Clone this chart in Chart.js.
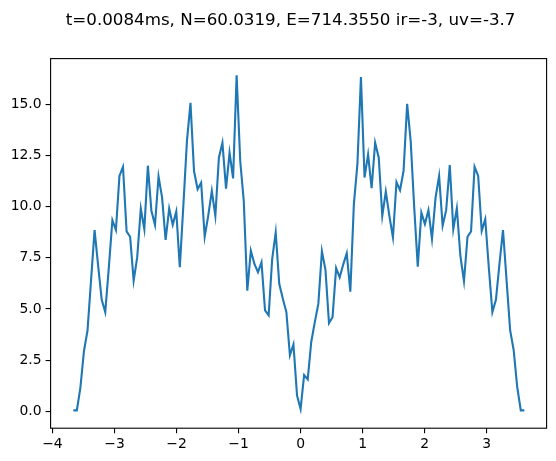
<!DOCTYPE html>
<html>
<head>
<meta charset="utf-8">
<script src="https://cdn.jsdelivr.net/npm/chart.js@4.4.1/dist/chart.umd.min.js"></script>
<style>
  html, body { margin: 0; padding: 0; background: #ffffff; }
  #wrap { width: 556px; height: 461px; position: relative; }
</style>
</head>
<body>
<div id="wrap"><canvas id="c" width="556" height="461"></canvas></div>
<script>
const titleText = "t=0.0084ms, N=60.0319, E=714.3550 ir=-3, uv=-3.7";

const xValues = [
  -3.664, -3.607, -3.550, -3.492, -3.435, -3.378, -3.321, -3.263, -3.206, -3.149,
  -3.092, -3.034, -2.977, -2.920, -2.863, -2.805, -2.748, -2.691, -2.634, -2.576,
  -2.519, -2.462, -2.405, -2.347, -2.290, -2.233, -2.176, -2.118, -2.061, -2.004,
  -1.947, -1.889, -1.832, -1.775, -1.718, -1.660, -1.603, -1.546, -1.489, -1.431,
  -1.374, -1.317, -1.260, -1.202, -1.145, -1.088, -1.031, -0.973, -0.916, -0.859,
  -0.802, -0.744, -0.687, -0.630, -0.573, -0.515, -0.458, -0.401, -0.344, -0.286,
  -0.229, -0.172, -0.115, -0.057, 0.000, 0.057, 0.115, 0.172, 0.229, 0.286,
  0.344, 0.401, 0.458, 0.515, 0.573, 0.630, 0.687, 0.744, 0.802, 0.859,
  0.916, 0.973, 1.031, 1.088, 1.145, 1.202, 1.260, 1.317, 1.374, 1.431,
  1.489, 1.546, 1.603, 1.660, 1.718, 1.775, 1.832, 1.889, 1.947, 2.004,
  2.061, 2.118, 2.176, 2.233, 2.290, 2.347, 2.405, 2.462, 2.519, 2.576,
  2.634, 2.691, 2.748, 2.805, 2.863, 2.920, 2.977, 3.034, 3.092, 3.149,
  3.206, 3.263, 3.321, 3.378, 3.435, 3.492, 3.550, 3.607
];

const yValues = [
  0.05, 0.05, 1.15, 2.95, 3.95, 6.40, 8.85, 7.10, 5.45, 4.85,
  7.00, 9.34, 8.86, 11.50, 11.94, 8.79, 8.53, 6.39, 7.52, 9.90,
  8.90, 12.00, 9.80, 9.11, 11.47, 10.45, 8.38, 9.91, 9.11, 9.76,
  7.04, 10.10, 13.20, 15.07, 11.74, 10.85, 11.17, 8.53, 9.55, 10.77,
  9.55, 12.39, 13.12, 10.88, 12.63, 11.38, 16.41, 12.23, 10.28, 5.90,
  7.85, 7.20, 6.80, 7.28, 4.93, 4.69, 7.44, 8.74, 6.23, 5.50,
  4.85, 2.74, 3.27, 0.77, 0.12, 1.77, 1.56, 3.39, 4.36, 5.25,
  7.82, 6.91, 4.31, 4.60, 7.00, 6.55, 7.17, 7.72, 5.85, 10.12,
  12.07, 16.33, 11.42, 12.55, 10.90, 13.12, 12.39, 9.55, 10.74, 9.55,
  8.50, 11.20, 10.80, 11.74, 15.02, 13.20, 9.96, 7.07, 9.71, 9.15,
  9.83, 8.42, 10.44, 11.50, 9.07, 9.83, 12.03, 8.90, 9.92, 7.60,
  6.36, 8.53, 8.79, 11.94, 11.50, 8.82, 9.39, 7.04, 4.85, 5.45,
  7.20, 8.86, 6.39, 3.97, 3.00, 1.20, 0.05, 0.05
];

const xTicks = [-4, -3, -2, -1, 0, 1, 2, 3];
const yTicks = [0, 2.5, 5, 7.5, 10, 12.5, 15];

const points = xValues.map((x, i) => ({ x: x, y: yValues[i] }));

const FONT = "'DejaVu Sans', sans-serif";
const AX = { left: 50.6, right: 546.6, top: 58.6, bottom: 428.2 };

const framePlugin = {
  id: 'frame',
  afterDraw(chart) {
    const ctx = chart.ctx;
    const a = chart.chartArea;
    ctx.save();
    ctx.strokeStyle = '#000000';
    ctx.lineWidth = 1.1;
    ctx.strokeRect(a.left, a.top, a.right - a.left, a.bottom - a.top);
    ctx.restore();
  },
  afterDatasetsDraw(chart) {}
};

const titlePlugin = {
  id: 'mtitle',
  afterDraw(chart) {
    const ctx = chart.ctx;
    ctx.save();
    ctx.fillStyle = '#000000';
    ctx.font = "16.7px " + FONT;
    ctx.textAlign = 'center';
    ctx.textBaseline = 'middle';
    ctx.fillText(titleText, 290.6, 21);
    ctx.restore();
  }
};

const minus = v => String(v).replace('-', '\u2212');

new Chart(document.getElementById('c'), {
  type: 'line',
  data: {
    datasets: [{
      data: points,
      borderColor: '#1f77b4',
      borderWidth: 2.1,
      pointRadius: 0,
      tension: 0,
      fill: false
    }]
  },
  options: {
    responsive: false,
    animation: false,
    devicePixelRatio: 1,
    layout: { padding: { top: AX.top, left: 0, right: 556 - AX.right, bottom: 0 } },
    plugins: { legend: { display: false }, title: { display: false }, tooltip: { enabled: false } },
    scales: {
      x: {
        type: 'linear',
        min: -4.03,
        max: 3.966,
        afterBuildTicks: s => { s.ticks = xTicks.map(v => ({ value: v })); },
        afterFit: s => { s.height = 461 - AX.bottom; },
        grid: { display: true, drawOnChartArea: false, drawTicks: true, tickLength: 5, color: '#000000', lineWidth: 1.1 },
        border: { display: false },
        ticks: {
          color: '#000000',
          font: { family: FONT, size: 13.9 },
          padding: 3,
          maxRotation: 0,
          callback: v => minus(v)
        }
      },
      y: {
        type: 'linear',
        min: -0.82,
        max: 17.23,
        afterBuildTicks: s => { s.ticks = yTicks.map(v => ({ value: v })); },
        afterFit: s => { s.width = AX.left; },
        grid: { display: true, drawOnChartArea: false, drawTicks: true, tickLength: 5, color: '#000000', lineWidth: 1.1 },
        border: { display: false },
        ticks: {
          color: '#000000',
          font: { family: FONT, size: 13.9 },
          padding: 4,
          callback: v => Number(v).toFixed(1)
        }
      }
    }
  },
  plugins: [framePlugin, titlePlugin]
});
</script>
</body>
</html>
